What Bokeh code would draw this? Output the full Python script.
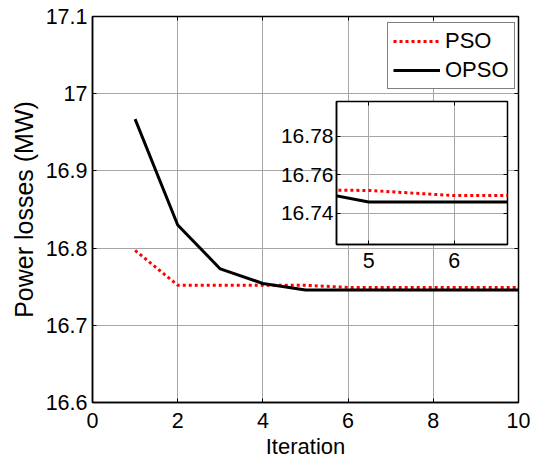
from bokeh.plotting import figure
from bokeh.models import Range1d, FixedTicker, LinearAxis, Legend, LegendItem
from bokeh.layouts import column
from bokeh.embed import file_html
from bokeh.resources import INLINE

# ---- data ----
iterations = [1, 2, 3, 4, 5, 6, 7, 8, 9, 10]
pso = [16.797, 16.752, 16.752, 16.752, 16.7518, 16.7491, 16.7491, 16.7491, 16.7491, 16.7491]
opso = [16.967, 16.830, 16.773, 16.7542, 16.7458, 16.7458, 16.7458, 16.7458, 16.7458, 16.7458]
series_names = ["PSO", "OPSO"]

x_ticks = [0, 2, 4, 6, 8, 10]
x_tick_labels = ["0", "2", "4", "6", "8", "10"]
y_ticks = [16.6, 16.7, 16.8, 16.9, 17.0, 17.1]
y_tick_labels = ["16.6", "16.7", "16.8", "16.9", "17", "17.1"]

inset_x_ticks = [5, 6]
inset_x_tick_labels = ["5", "6"]
inset_y_ticks = [16.74, 16.76, 16.78]
inset_y_tick_labels = ["16.74", "16.76", "16.78"]

FONT = "Liberation Sans"
GRID = "#a6a6a6"


def style_axis(ax, ticks, labels, standoff, fs):
    ax.ticker = FixedTicker(ticks=ticks)
    ax.major_label_overrides = {t: l for t, l in zip(ticks, labels)}
    ax.major_label_text_font = FONT
    ax.major_label_text_font_size = fs
    ax.major_label_text_color = "black"
    ax.major_label_standoff = standoff
    ax.major_tick_in = 4
    ax.major_tick_out = 0
    ax.minor_tick_line_color = None
    ax.major_tick_line_color = "black"
    ax.axis_line_color = "black"
    ax.axis_line_width = 1.5


def blank_axis(ticks):
    ax = LinearAxis(ticker=FixedTicker(ticks=ticks))
    ax.major_label_text_font_size = "0px"
    ax.major_label_standoff = 0
    ax.major_tick_in = 4
    ax.major_tick_out = 0
    ax.minor_tick_line_color = None
    ax.axis_line_color = None
    ax.major_tick_line_color = "black"
    return ax


# ---- main figure ----
p = figure(width=536, height=461, x_range=Range1d(0, 10), y_range=Range1d(16.6, 17.1),
           output_backend="svg", toolbar_location=None,
           min_border_left=92, min_border_right=18, min_border_top=16, min_border_bottom=58)
p.background_fill_color = "white"
p.border_fill_color = "white"
p.outline_line_color = "black"
p.outline_line_width = 1.5

style_axis(p.xaxis[0], x_ticks, x_tick_labels, 10, "21.5px")
style_axis(p.yaxis[0], y_ticks, y_tick_labels, 5, "21.5px")
p.xaxis.axis_label = "Iteration"
p.yaxis.axis_label = "Power losses (MW)"
for ax in (p.xaxis[0], p.yaxis[0]):
    ax.axis_label_text_font = FONT
    ax.axis_label_text_font_style = "normal"
    ax.axis_label_text_color = "black"
p.xaxis.axis_label_text_font_size = "22px"
p.yaxis.axis_label_text_font_size = "25px"
p.xaxis.axis_label_standoff = 3
p.yaxis.axis_label_standoff = 5

p.add_layout(blank_axis(x_ticks), "above")
p.add_layout(blank_axis(y_ticks), "right")

p.xgrid.ticker = FixedTicker(ticks=x_ticks)
p.ygrid.ticker = FixedTicker(ticks=y_ticks)
for g in (p.xgrid[0], p.ygrid[0]):
    g.grid_line_color = GRID
    g.grid_line_width = 1

r_pso = p.line(iterations, pso, line_color="red", line_width=3, line_dash="3 3")
r_opso = p.line(iterations, opso, line_color="black", line_width=3)

legend = Legend(items=[LegendItem(label=series_names[0], renderers=[r_pso]),
                       LegendItem(label=series_names[1], renderers=[r_opso])],
                location=(295, 313))
legend.label_text_font = FONT
legend.label_text_font_size = "22px"
legend.label_text_color = "black"
legend.padding = 5
legend.spacing = 3
legend.glyph_width = 47
legend.glyph_height = 22
legend.label_height = 22
legend.label_standoff = 5
legend.border_line_color = "black"
legend.border_line_width = 1.5
legend.background_fill_color = "white"
legend.background_fill_alpha = 1
legend.margin = 0
p.add_layout(legend)

# ---- inset figure ----
inset = figure(width=281, height=181, x_range=Range1d(4.623, 6.622), y_range=Range1d(16.7237, 16.798),
               output_backend="svg", toolbar_location=None,
               min_border_left=92, min_border_right=18, min_border_top=4, min_border_bottom=34,
               styles={"position": "absolute", "left": "244px", "top": "97px"})
inset.background_fill_color = "white"
inset.border_fill_alpha = 0
inset.outline_line_color = "black"
inset.outline_line_width = 1.5
style_axis(inset.xaxis[0], inset_x_ticks, inset_x_tick_labels, 8, "21.5px")
style_axis(inset.yaxis[0], inset_y_ticks, inset_y_tick_labels, 3, "21px")
inset.add_layout(blank_axis(inset_x_ticks), "above")
inset.add_layout(blank_axis(inset_y_ticks), "right")
inset.xgrid.ticker = FixedTicker(ticks=inset_x_ticks)
inset.ygrid.ticker = FixedTicker(ticks=inset_y_ticks)
for g in (inset.xgrid[0], inset.ygrid[0]):
    g.grid_line_color = GRID
    g.grid_line_width = 1
inset.line(iterations, pso, line_color="red", line_width=3, line_dash="3 3")
inset.line(iterations, opso, line_color="black", line_width=3)

layout = column(p, inset, styles={"position": "relative"})

open("out.html", "w").write(file_html(layout, INLINE))
